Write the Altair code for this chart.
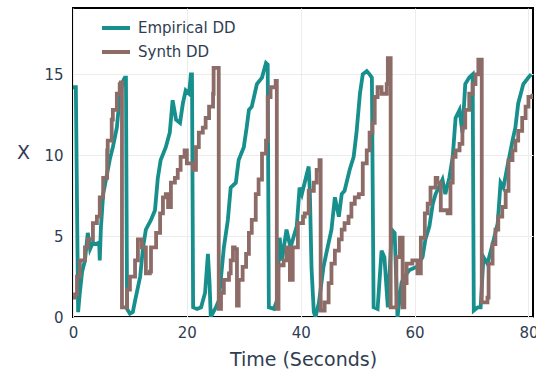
import altair as alt
import pandas as pd

# Empirical DD (time in seconds, X)
emp_t = [0.0, 0.5, 0.9, 1.2, 1.6, 2.1, 2.6, 3.0, 3.5, 4.0, 4.6, 4.7, 4.9, 5.3, 5.8, 6.5, 7.0, 7.7,
         8.2, 8.8, 9.1, 9.3, 9.5, 10.0, 10.5, 10.9, 11.8, 12.3, 12.8, 13.7, 14.4, 14.9, 15.4, 16.3,
         17.0, 17.5, 18.1, 18.8, 19.3, 19.8, 20.4, 20.7, 20.9, 21.1, 21.8, 22.5, 23.2, 23.7, 24.0,
         24.2, 25.1, 25.6, 26.5, 27.2, 27.7, 28.6, 29.1, 30.0, 30.5, 30.9, 31.4, 32.3, 33.2, 33.9,
         34.2, 34.4, 35.3, 35.8, 36.3, 36.7, 37.5, 38.2, 39.3, 39.8, 40.2, 41.4, 41.6, 41.9, 42.3,
         42.6, 43.2, 44.0, 44.6, 45.4, 46.0, 46.7, 47.2, 47.7, 48.6, 49.3, 49.8, 50.4, 50.9, 51.6,
         52.1, 52.5, 52.8, 53.5, 54.2, 54.7, 55.3, 56.0, 56.5, 57.0, 57.7, 58.2, 59.1, 60.4, 61.4,
         61.9, 62.6, 63.2, 63.7, 64.9, 65.4, 66.1, 66.7, 67.2, 67.9, 68.4, 68.9, 69.6, 70.2, 70.4,
         71.1, 71.6, 72.1, 72.8, 73.7, 74.6, 75.1, 75.6, 76.3, 77.2, 77.7, 78.2, 79.1, 80.0, 80.5]
emp_x = [14.2, 14.2, 0.3, 1.5, 2.8, 3.5, 5.2, 4.2, 4.6, 4.5, 4.6, 3.5, 5.5, 7.6, 8.5, 9.8, 10.5, 11.7,
         13.6, 14.6, 14.8, 14.8, 0.5, 0.2, 0.3, 1.0, 2.5, 4.3, 5.4, 6.0, 6.6, 8.6, 9.7, 10.5,
         11.4, 13.4, 12.2, 12.0, 13.2, 14.0, 13.8, 15.0, 15.0, 0.6, 0.5, 0.6, 1.5, 3.9, 2.0,
         0.0, 0.6, 1.0, 4.3, 6.0, 8.0, 8.3, 9.7, 10.5, 11.7, 12.8, 13.0, 14.4, 14.8, 15.7,
         15.6, 0.6, 0.5, 1.0, 4.9, 3.5, 5.4, 4.3, 5.6, 8.0, 7.6, 9.3, 7.8, 3.0, 0.3,
         0.0, 0.9, 3.1, 4.1, 5.4, 7.4, 6.2, 7.6, 7.8, 9.1, 9.9, 11.4, 13.8, 15.0, 15.2,
         15.0, 14.8, 0.6, 0.5, 4.1, 3.7, 0.6, 5.4, 5.2, 0.0, 2.1, 2.5, 2.9, 3.1, 3.7,
         4.8, 5.6, 7.0, 7.6, 8.5, 7.6, 8.6, 9.9, 12.3, 12.8, 11.4, 14.4, 14.8, 15.0, 0.4,
         0.6, 0.6, 3.7, 3.3, 4.5, 5.8, 8.3, 8.0, 9.3, 10.9, 11.7, 13.2, 14.4, 14.8, 15.0]

# Synth DD (time in seconds, X)
syn_t = [0.0, 0.35, 0.7, 1.2, 2.1, 2.6, 3.5, 4.2, 4.7, 5.3, 6.0, 6.1, 6.8, 7.0, 7.7, 8.2, 8.4, 8.6,
         9.1, 9.5, 10.0, 10.9, 11.4, 12.1, 12.8, 13.5, 13.7, 14.6, 15.3, 15.8, 16.3, 16.7, 17.2,
         17.9, 18.4, 18.9, 19.6, 20.0, 21.1, 21.6, 22.1, 22.8, 23.3, 23.9, 24.6, 24.7, 25.4, 25.6,
         26.0, 26.5, 27.4, 27.7, 28.1, 28.4, 28.8, 29.1, 29.8, 30.4, 30.9, 31.4, 32.1, 32.6, 33.2,
         33.9, 34.2, 34.7, 35.6, 35.8, 36.1, 37.0, 37.5, 38.1, 38.6, 39.5, 40.4, 40.7, 41.4, 42.3,
         42.8, 43.3, 43.5, 44.2, 44.9, 45.4, 46.0, 46.7, 47.2, 47.7, 48.4, 48.9, 49.5, 50.2, 50.9,
         51.6, 52.1, 52.6, 53.0, 53.5, 54.2, 55.1, 55.3, 55.6, 55.8, 56.3, 56.8, 57.4, 57.7, 57.9,
         58.2, 58.6, 59.6, 60.5, 61.1, 61.8, 62.3, 62.8, 63.7, 64.0, 64.6, 65.8, 66.3, 66.7, 67.2,
         67.9, 68.4, 68.9, 69.6, 70.2, 70.7, 71.2, 71.6, 71.8, 72.8, 73.0, 73.7, 74.2, 74.7, 75.4,
         76.0, 76.5, 77.2, 77.7, 78.2, 78.9, 79.5, 80.0, 80.7]
syn_x = [1.2, 1.4, 2.5, 3.5, 4.3, 4.8, 5.8, 6.2, 7.4, 8.6, 10.3, 10.9, 12.2, 12.8, 13.8, 14.4, 14.5, 0.6,
         0.6, 1.7, 2.5, 3.5, 4.8, 4.3, 2.7, 2.8, 4.3, 5.2, 6.4, 7.4, 7.6, 6.8, 8.3,
         8.6, 9.1, 9.9, 10.3, 9.5, 9.1, 10.5, 11.4, 11.7, 12.3, 13.0, 13.8, 15.4, 15.4, 0.5,
         1.5, 2.3, 2.7, 3.5, 4.3, 4.2, 0.7, 2.3, 3.1, 3.9, 5.2, 6.0, 7.6, 8.5, 10.1,
         10.9, 13.6, 14.2, 14.6, 0.5, 3.2, 3.5, 4.3, 2.3, 4.3, 5.8, 6.2, 6.4, 7.8, 8.3,
         9.1, 9.7, 0.4, 0.9, 2.1, 3.3, 4.1, 4.8, 5.4, 5.8, 6.2, 7.0, 7.4, 7.6, 9.5,
         10.3, 11.4, 12.0, 13.6, 14.2, 13.8, 14.4, 16.0, 16.0, 0.6, 0.6, 3.7, 4.9, 4.9, 0.6,
         2.1, 3.3, 3.5, 2.7, 4.9, 6.4, 7.0, 8.0, 8.6, 8.3, 6.6, 6.4, 8.3, 9.9, 10.3,
         10.7, 11.7, 12.8, 13.8, 14.4, 15.0, 15.9, 15.9, 0.9, 1.2, 3.3, 4.5, 5.4, 6.2, 6.8,
         7.8, 9.7, 10.3, 10.9, 11.5, 12.3, 13.0, 13.6, 13.8]

series_names = ["Empirical DD", "Synth DD"]
series_colors = ["#178f8d", "#8d6c68"]

df_emp = pd.DataFrame({"t": emp_t, "x": emp_x, "series": series_names[0], "order": range(len(emp_t))})
df_syn = pd.DataFrame({"t": syn_t, "x": syn_x, "series": series_names[1], "order": range(len(syn_t))})

text_color = "#2f3d52"
font = "DejaVu Sans"

x_enc = alt.X("t:Q", title="Time (Seconds)",
              scale=alt.Scale(domain=[0, 80.8], nice=False, zero=False),
              axis=alt.Axis(values=[0, 20, 40, 60, 80], grid=True, domain=False, ticks=False,
                            labelPadding=8, titlePadding=10, labelFlush=False))
y_enc = alt.Y("x:Q", title="X",
              scale=alt.Scale(domain=[0, 19.1], nice=False),
              axis=alt.Axis(values=[0, 5, 10, 15], grid=True, domain=False, ticks=False,
                            labelPadding=10, titlePadding=21, titleAngle=0, labelFlush=False))
c_enc = alt.Color("series:N",
                  scale=alt.Scale(domain=series_names, range=series_colors),
                  legend=alt.Legend(title=None, orient="none", legendX=27, legendY=4,
                                    symbolType="stroke", symbolSize=784, symbolStrokeWidth=4,
                                    labelFontSize=15, labelColor=text_color, labelFont=font,
                                    rowPadding=-6, symbolOffset=0, labelOffset=6))

emp_line = alt.Chart(df_emp).mark_line(strokeWidth=3.8, clip=True).encode(
    x=x_enc, y=y_enc, color=c_enc, order="order:Q")
syn_line = alt.Chart(df_syn).mark_line(strokeWidth=3.8, clip=True, interpolate="step-after").encode(
    x=x_enc, y=y_enc, color=c_enc, order="order:Q")

chart = alt.layer(emp_line, syn_line).properties(
    width=460, height=309,
    autosize=alt.AutoSizeParams(type="none"),
    padding={"left": 73, "top": 8, "right": 3, "bottom": 61},
).configure_view(
    stroke="black", strokeWidth=2
).configure_axis(
    labelFont=font, titleFont=font, labelFontSize=15, titleFontSize=19,
    labelColor=text_color, titleColor=text_color, titleFontWeight="normal",
    gridColor="#ececec", gridWidth=1
)

chart.save("out.html", embed_options={"renderer": "svg", "actions": False})
